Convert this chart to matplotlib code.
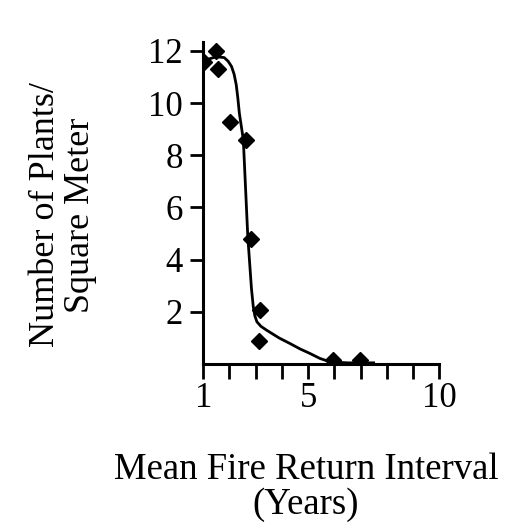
import matplotlib
matplotlib.use("Agg")
import matplotlib.pyplot as plt

# observed points (diamonds)
interval = [1.03, 1.48, 1.57, 2.02, 2.62, 2.81, 3.16, 3.11, 5.96, 6.98]
plants = [11.56, 12.0, 11.3, 9.26, 8.58, 4.8, 2.07, 0.9, 0.15, 0.15]

# fitted curve
curve_x = [1.0, 1.2, 1.5, 1.8, 1.95, 2.08, 2.18, 2.26, 2.32, 2.38, 2.53, 2.7,
           2.84, 2.91, 2.97, 3.05, 3.2, 3.42, 3.9, 4.31, 4.7, 5.07, 5.45, 5.83,
           6.5, 7.5]
curve_y = [11.6, 11.68, 11.77, 11.74, 11.6, 11.4, 11.1, 10.7, 10.2, 9.6, 8.6, 4.9,
           2.9, 2.2, 1.85, 1.62, 1.45, 1.3, 1.0, 0.79, 0.58, 0.41, 0.22, 0.09,
           0.05, 0.05]

x_ticks = list(range(1, 11))
x_labels = ["1", "", "", "", "5", "", "", "", "", "10"]
y_ticks = [2, 4, 6, 8, 10, 12]

plt.rcParams["font.family"] = "Liberation Serif"

fig = plt.figure(figsize=(5.21, 5.27), dpi=100)
ax = fig.add_axes([0.390, 0.309, 0.453, 0.612])

ax.plot(curve_x, curve_y, color="black", lw=2, zorder=2)
ax.plot(interval, plants, "D", color="black", markersize=8, zorder=3)

ax.set_xlim(1, 10)
ax.set_ylim(0, 12.35)
ax.set_xticks(x_ticks)
ax.set_xticklabels(x_labels)
ax.set_yticks(y_ticks)

for s in ["top", "right"]:
    ax.spines[s].set_visible(False)
for s in ["left", "bottom"]:
    ax.spines[s].set_linewidth(2.2)
ax.spines["bottom"].set_bounds(1, 10)

ax.tick_params(axis="x", direction="out", length=11, width=2, pad=2, labelsize=25)
ax.tick_params(axis="y", direction="out", length=9.5, width=2, pad=5, labelsize=25)

fig.text(0.587, 0.075, "Mean Fire Return Interval\n(Years)", ha="center", va="center",
         fontsize=26.5, linespacing=1.0)
fig.text(0.121, 0.592, "Number of Plants/\nSquare Meter", ha="center", va="center",
         rotation=90, fontsize=26, linespacing=1.1)

fig.savefig("out.png", dpi=100)
plt.close(fig)
